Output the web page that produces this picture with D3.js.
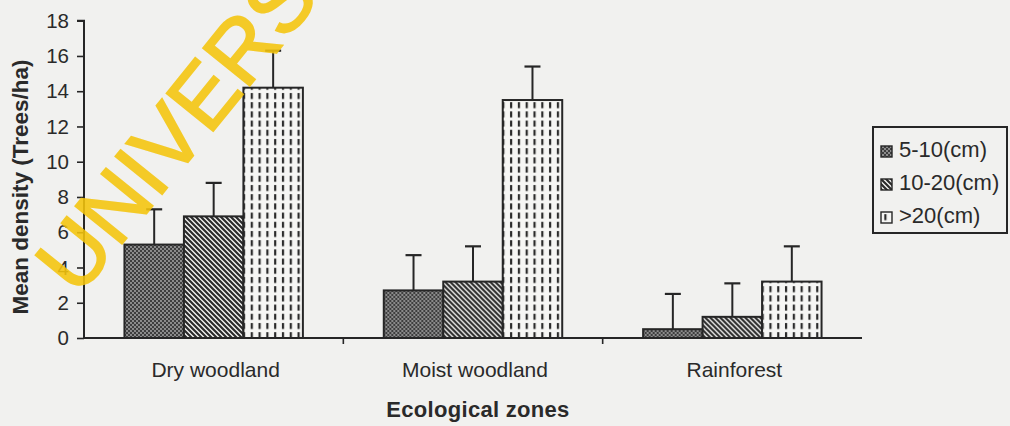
<!DOCTYPE html>
<html>
<head>
<meta charset="utf-8">
<script src="https://cdn.jsdelivr.net/npm/d3@7/dist/d3.min.js"></script>
<style>
  html, body { margin: 0; padding: 0; background: #f1f1ef; }
  svg { display: block; }
  text { font-family: "Liberation Sans", Arial, sans-serif; fill: #2a2a2a; }
</style>
</head>
<body>
<svg id="chart" width="1010" height="426"></svg>
<script>
// ---- data ----
const categories = ["Dry woodland", "Moist woodland", "Rainforest"];
const seriesNames = ["5-10(cm)", "10-20(cm)", ">20(cm)"];
const values_5_10 = [5.3, 2.7, 0.5];
const values_10_20 = [6.9, 3.2, 1.2];
const values_gt20 = [14.2, 13.5, 3.2];
const errors_5_10 = [2.0, 2.0, 2.0];
const errors_10_20 = [1.9, 2.0, 1.9];
const errors_gt20 = [2.1, 1.9, 2.0];
const yTicks = [0, 2, 4, 6, 8, 10, 12, 14, 16, 18];
const yLabel = "Mean density (Trees/ha)";
const xLabel = "Ecological zones";

const seriesValues = [values_5_10, values_10_20, values_gt20];
const seriesErrors = [errors_5_10, errors_10_20, errors_gt20];
const patternIds = ["pCross", "pDiag", "pDash"];

const svg = d3.select("#chart");
const ink = "#262626";

// ---- patterns ----
const defs = svg.append("defs");
const p1 = defs.append("pattern").attr("id", "pCross").attr("patternUnits", "userSpaceOnUse")
  .attr("width", 4).attr("height", 4);
p1.append("rect").attr("width", 4).attr("height", 4).attr("fill", "#3e3e3e");
p1.append("circle").attr("cx", 1).attr("cy", 1).attr("r", 0.9).attr("fill", "#b0b0b0");
p1.append("circle").attr("cx", 3).attr("cy", 3).attr("r", 0.9).attr("fill", "#b0b0b0");

const p2 = defs.append("pattern").attr("id", "pDiag").attr("patternUnits", "userSpaceOnUse")
  .attr("width", 5).attr("height", 5);
p2.append("rect").attr("width", 5).attr("height", 5).attr("fill", "#f4f4f2");
p2.append("path").attr("d", "M-1,-1 L6,6 M-1,4 L1,6 M4,-1 L6,1")
  .attr("stroke", "#2b2b2b").attr("stroke-width", 2.2);

const p3 = defs.append("pattern").attr("id", "pDash").attr("patternUnits", "userSpaceOnUse")
  .attr("width", 7.8).attr("height", 9.2);
p3.append("rect").attr("width", 7.8).attr("height", 9.2).attr("fill", "#f6f6f4");
p3.append("rect").attr("x", 2.9).attr("y", 1).attr("width", 2.2).attr("height", 6).attr("fill", "#2b2b2b");

// ---- scales ----
const x0 = d3.scaleBand().domain(categories).range([84, 862]).paddingInner(0).paddingOuter(0);
const x1 = d3.scaleBand().domain(seriesNames).range([0, x0.bandwidth()]).paddingInner(0).paddingOuter(0.68);
const y = d3.scaleLinear().domain([0, 18]).range([338, 20.7]);

// ---- y axis ----
const yAxis = d3.axisLeft(y).tickValues(yTicks).tickSize(7).tickPadding(8);
const gy = svg.append("g").attr("transform", "translate(84,0)").call(yAxis);
gy.select(".domain").attr("stroke", ink).attr("stroke-width", 2).attr("d", `M-7,${y(18)}H0V${y(0)}`);
gy.selectAll(".tick line").attr("stroke", ink).attr("stroke-width", 1.6);
gy.selectAll(".tick text").style("font-size", "20.5px").style("font-family", "'Liberation Sans', Arial, sans-serif")
  .attr("fill", ink);

// ---- bars ----
const groups = svg.append("g").selectAll("g").data(categories).join("g")
  .attr("transform", d => `translate(${x0(d)},0)`);

seriesNames.forEach((s, si) => {
  groups.append("rect")
    .attr("x", x1(s))
    .attr("y", (d, i) => y(seriesValues[si][i]))
    .attr("width", x1.bandwidth())
    .attr("height", (d, i) => y(0) - y(seriesValues[si][i]))
    .attr("fill", `url(#${patternIds[si]})`)
    .attr("stroke", ink).attr("stroke-width", 2);
  groups.append("line")
    .attr("x1", x1(s) + x1.bandwidth() / 2).attr("x2", x1(s) + x1.bandwidth() / 2)
    .attr("y1", (d, i) => y(seriesValues[si][i]))
    .attr("y2", (d, i) => y(seriesValues[si][i] + seriesErrors[si][i]))
    .attr("stroke", ink).attr("stroke-width", 2);
  groups.append("line")
    .attr("x1", x1(s) + x1.bandwidth() / 2 - 8).attr("x2", x1(s) + x1.bandwidth() / 2 + 8)
    .attr("y1", (d, i) => y(seriesValues[si][i] + seriesErrors[si][i]))
    .attr("y2", (d, i) => y(seriesValues[si][i] + seriesErrors[si][i]))
    .attr("stroke", ink).attr("stroke-width", 2.2);
});

// ---- x axis ----
svg.append("line").attr("x1", 84).attr("x2", 862).attr("y1", y(0)).attr("y2", y(0))
  .attr("stroke", ink).attr("stroke-width", 2);
svg.append("g").selectAll("line").data(categories.slice(1)).join("line")
  .attr("x1", d => x0(d)).attr("x2", d => x0(d))
  .attr("y1", y(0)).attr("y2", y(0) + 6)
  .attr("stroke", ink).attr("stroke-width", 1.6);
svg.append("g").selectAll("text").data(categories).join("text")
  .attr("x", d => x0(d) + x0.bandwidth() / 2 + 2)
  .attr("y", 377)
  .attr("text-anchor", "middle")
  .style("font-size", "21px")
  .text(d => d);

svg.append("text").attr("x", 478).attr("y", 417).attr("text-anchor", "middle")
  .style("font-size", "22px").style("font-weight", "bold").style("letter-spacing", "0.3px")
  .text(xLabel);

svg.append("text").attr("transform", "translate(28,187) rotate(-90)").attr("text-anchor", "middle")
  .style("font-size", "22.5px").style("font-weight", "bold")
  .text(yLabel);

// ---- legend ----
const lg = svg.append("g");
lg.append("rect").attr("x", 873).attr("y", 127).attr("width", 134).attr("height", 106)
  .attr("fill", "none").attr("stroke", ink).attr("stroke-width", 2);
const rows = lg.selectAll("g").data(seriesNames).join("g")
  .attr("transform", (d, i) => `translate(0,${i * 33})`);
rows.append("rect").attr("x", 881).attr("y", 146).attr("width", 11).attr("height", 11)
  .attr("fill", (d, i) => `url(#${patternIds[i]})`).attr("stroke", ink).attr("stroke-width", 1.4);
rows.append("text").attr("x", 899).attr("y", 157).style("font-size", "22px").text(d => d);

// ---- watermark ----
svg.append("text").attr("transform", "translate(78,298) rotate(-51)")
  .style("font-size", "87px")
  .style("fill", "#f5c50c").style("stroke", "#f5c50c").style("stroke-width", 2)
  .style("opacity", 0.88)
  .text("UNIVERS");
</script>
</body>
</html>
